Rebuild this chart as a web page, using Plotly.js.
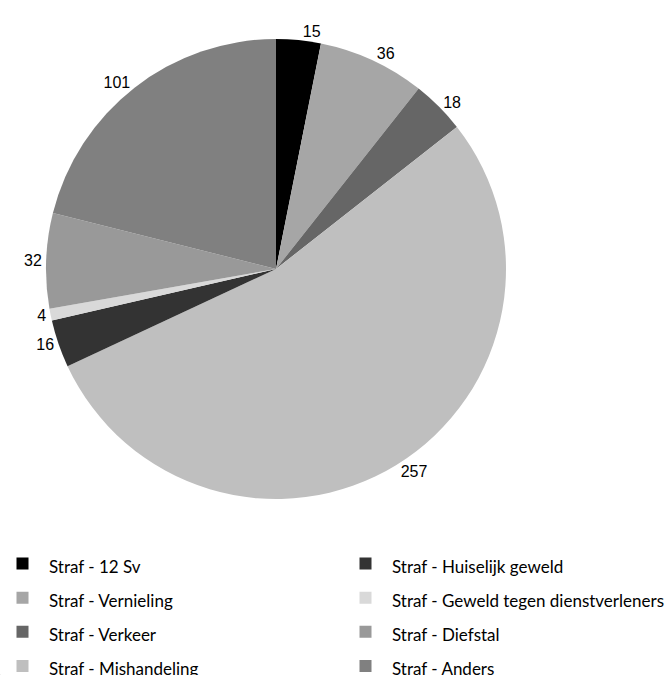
<!DOCTYPE html>
<html>
<head>
<meta charset="utf-8">
<script src="https://cdn.plot.ly/plotly-3.0.1.min.js"></script>
<style>html,body{margin:0;padding:0;background:#fff;}#chart{width:670px;height:675px;}</style>
</head>
<body>
<div id="chart"></div>
<script>
// Slices in clockwise order from 12 o'clock
var categories = [
  "Straf - 12 Sv",
  "Straf - Vernieling",
  "Straf - Verkeer",
  "Straf - Mishandeling",
  "Straf - Huiselijk geweld",
  "Straf - Geweld tegen dienstverleners",
  "Straf - Diefstal",
  "Straf - Anders"
];
var values = [15, 36, 18, 257, 16, 4, 32, 101];
var colors = ["#000000", "#a6a6a6", "#666666", "#bfbfbf", "#333333", "#d9d9d9", "#999999", "#808080"];

// Legend: two columns of four entries
var legendColumn1 = [0, 1, 2, 3];
var legendColumn2 = [4, 5, 6, 7];

var W = 670, H = 675;
var cx = 276, cy = 269, R = 230;

function pick(arr, idx){ return idx.map(function(i){ return arr[i]; }); }
function legLabel(s){ return '<span style="font-size:17px">' + s + '</span>'; }

var mainPie = {
  type: "pie",
  labels: categories,
  values: values,
  marker: {colors: colors, line: {width: 0}},
  sort: false,
  direction: "clockwise",
  rotation: 0,
  textinfo: "value",
  textposition: "outside",
  outsidetextfont: {family: "Liberation Sans, Arial, sans-serif", size: 16, color: "#000"},
  showlegend: false,
  hoverinfo: "label+value",
  domain: {x: [(cx - R) / W, (cx + R) / W], y: [1 - (cy + R) / H, 1 - (cy - R) / H]}
};

function legendPie(idx, legendId){
  return {
    type: "pie",
    labels: pick(categories, idx).map(legLabel),
    values: pick(values, idx),
    marker: {colors: pick(colors, idx), line: {width: 0}},
    sort: false,
    textinfo: "none",
    hoverinfo: "skip",
    showlegend: true,
    legend: legendId,
    domain: {x: [0, 0.0005], y: [0, 0.0005]}
  };
}

var legendBase = {
  orientation: "v",
  xanchor: "left",
  y: 0.198,
  yanchor: "top",
  itemwidth: 43,
  font: {family: "Lato, sans-serif", size: 24, color: "#000"},
  bgcolor: "rgba(0,0,0,0)"
};

var layout = {
  width: W,
  height: H,
  margin: {l: 0, r: 0, t: 0, b: 0, autoexpand: false},
  paper_bgcolor: "#fff",
  showlegend: true,
  legend: Object.assign({}, legendBase, {x: -4 / W}),
  legend2: Object.assign({}, legendBase, {x: 339 / W})
};

Plotly.newPlot("chart", [mainPie, legendPie(legendColumn1, "legend"), legendPie(legendColumn2, "legend2")], layout, {displayModeBar: false, staticPlot: true});
</script>
</body>
</html>
